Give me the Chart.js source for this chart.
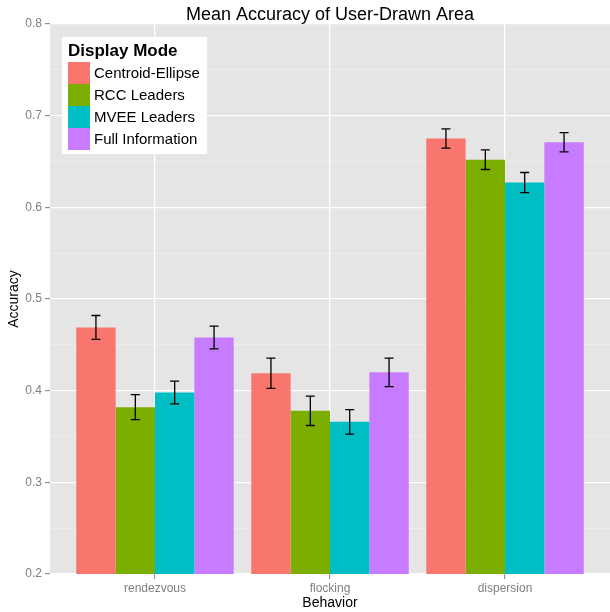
<!DOCTYPE html>
<html lang="en">
<head>
    <meta charset="UTF-8">
    <title>Mean Accuracy of User-Drawn Area</title>
    <script src="https://cdn.jsdelivr.net/npm/chart.js@4.4.1/dist/chart.umd.min.js"></script>
    <style>
        body {
            margin: 0;
            padding: 0;
            background: #ffffff;
        }
        .chart-wrapper {
            width: 610px;
            height: 612px;
            position: relative;
        }
    </style>
</head>
<body>
    <div class="chart-wrapper">
        <canvas id="accuracyChart"></canvas>
    </div>

    <script>
        // Data
        const behaviors = ['rendezvous', 'flocking', 'dispersion'];
        const modes = ['Centroid-Ellipse', 'RCC Leaders', 'MVEE Leaders', 'Full Information'];
        const modeColors = ['#F8766D', '#7CAE00', '#00BFC4', '#C77CFF'];

        const centroidEllipse = [0.469, 0.419, 0.675];
        const rccLeaders = [0.382, 0.378, 0.652];
        const mveeLeaders = [0.398, 0.366, 0.627];
        const fullInformation = [0.458, 0.420, 0.671];

        // half-width of the error bars
        const centroidErr = [0.013, 0.0165, 0.0105];
        const rccErr = [0.0136, 0.016, 0.0107];
        const mveeErr = [0.0125, 0.0134, 0.011];
        const fullErr = [0.0124, 0.0156, 0.0104];

        const yTicks = [0.2, 0.3, 0.4, 0.5, 0.6, 0.7, 0.8];

        const seriesValues = [centroidEllipse, rccLeaders, mveeLeaders, fullInformation];
        const seriesErrors = [centroidErr, rccErr, mveeErr, fullErr];

        const FONT = "'Liberation Sans', Arial, sans-serif";

        function isMajor(v) {
            return yTicks.some(t => Math.abs(t - v) < 1e-6);
        }

        // grey panel behind the grid
        const panelPlugin = {
            id: 'panel',
            beforeDraw(chart) {
                const { ctx, chartArea } = chart;
                ctx.save();
                ctx.fillStyle = '#E5E5E5';
                ctx.fillRect(chartArea.left, chartArea.top,
                    chartArea.right - chartArea.left, chartArea.bottom - chartArea.top);
                ctx.restore();
            }
        };

        // error bars drawn on top of the bars
        const errorBarPlugin = {
            id: 'errorBars',
            afterDatasetsDraw(chart) {
                const { ctx } = chart;
                const yScale = chart.scales.y;
                ctx.save();
                ctx.strokeStyle = '#000000';
                ctx.lineWidth = 1.3;
                chart.data.datasets.forEach((ds, di) => {
                    const meta = chart.getDatasetMeta(di);
                    meta.data.forEach((bar, i) => {
                        const v = seriesValues[di][i];
                        const e = seriesErrors[di][i];
                        const yHi = yScale.getPixelForValue(v + e);
                        const yLo = yScale.getPixelForValue(v - e);
                        const x = bar.x;
                        const hw = 4.5;
                        ctx.beginPath();
                        ctx.moveTo(x, yHi);
                        ctx.lineTo(x, yLo);
                        ctx.moveTo(x - hw, yHi);
                        ctx.lineTo(x + hw, yHi);
                        ctx.moveTo(x - hw, yLo);
                        ctx.lineTo(x + hw, yLo);
                        ctx.stroke();
                    });
                });
                ctx.restore();
            }
        };

        // title and the legend box inside the panel
        const decorPlugin = {
            id: 'decor',
            afterDraw(chart) {
                const { ctx, chartArea } = chart;
                ctx.save();
                ctx.fillStyle = '#000000';
                ctx.font = '18px ' + FONT;
                ctx.textAlign = 'center';
                ctx.textBaseline = 'middle';
                ctx.fillText('Mean Accuracy of User-Drawn Area', (chartArea.left + chartArea.right) / 2, 15);

                // legend
                const lx = 62, ly = 37, lw = 145, lh = 117;
                ctx.fillStyle = '#ffffff';
                ctx.fillRect(lx, ly, lw, lh);
                ctx.fillStyle = '#000000';
                ctx.textAlign = 'left';
                ctx.textBaseline = 'alphabetic';
                ctx.font = 'bold 17px ' + FONT;
                ctx.fillText('Display Mode', 68, 56);
                ctx.font = '15px ' + FONT;
                ctx.textBaseline = 'middle';
                modes.forEach((m, i) => {
                    const sy = 62 + i * 22;
                    ctx.fillStyle = modeColors[i];
                    ctx.fillRect(68, sy, 22, 22);
                    ctx.fillStyle = '#000000';
                    ctx.fillText(m, 94, sy + 11.5);
                });
                ctx.restore();
            }
        };

        const datasets = modes.map((m, i) => ({
            label: m,
            data: seriesValues[i],
            backgroundColor: modeColors[i],
            borderWidth: 0
        }));

        const config = {
            type: 'bar',
            data: { labels: behaviors, datasets: datasets },
            options: {
                responsive: true,
                maintainAspectRatio: false,
                animation: false,
                layout: { padding: { top: 24, right: 0, left: 0, bottom: 0 } },
                datasets: {
                    bar: { categoryPercentage: 0.9, barPercentage: 1.0 }
                },
                scales: {
                    x: {
                        offset: false,
                        // ggplot-style expansion of 0.6 category on each side
                        afterBuildTicks(scale) {
                            scale._startValue = -0.6;
                            scale._valueRange = behaviors.length - 1 + 1.2;
                        },
                        afterFit(scale) { scale.height = 38; },
                        grid: {
                            offset: false,
                            color: '#ffffff',
                            lineWidth: 1.3,
                            tickColor: '#7F7F7F',
                            tickLength: 5,
                            tickWidth: 1
                        },
                        border: { display: false },
                        ticks: {
                            color: '#7F7F7F',
                            font: { family: FONT, size: 12 },
                            padding: 2
                        },
                        title: {
                            display: true,
                            text: 'Behavior',
                            color: '#000000',
                            font: { family: FONT, size: 14 },
                            padding: { top: 0, bottom: 0 }
                        }
                    },
                    y: {
                        min: 0.2,
                        max: 0.8,
                        afterFit(scale) { scale.width = 50; },
                        afterBuildTicks(scale) {
                            const t = [];
                            for (let k = 0; k <= 12; k++) t.push({ value: Math.round((0.2 + k * 0.05) * 100) / 100 });
                            scale.ticks = t;
                        },
                        grid: {
                            color: ctx => isMajor(ctx.tick.value) ? '#ffffff' : '#F2F2F2',
                            lineWidth: ctx => isMajor(ctx.tick.value) ? 1.3 : 0.6,
                            tickColor: ctx => isMajor(ctx.tick.value) ? '#7F7F7F' : 'rgba(0,0,0,0)',
                            tickLength: 5,
                            tickWidth: 1
                        },
                        border: { display: false },
                        ticks: {
                            autoSkip: false,
                            color: '#7F7F7F',
                            font: { family: FONT, size: 12 },
                            padding: 3,
                            callback: v => isMajor(v) ? v.toFixed(1) : ''
                        },
                        title: {
                            display: true,
                            text: 'Accuracy',
                            color: '#000000',
                            font: { family: FONT, size: 14 },
                            padding: { top: 6, bottom: 0 }
                        }
                    }
                },
                plugins: {
                    legend: { display: false },
                    title: { display: false },
                    tooltip: { enabled: false }
                }
            },
            plugins: [panelPlugin, errorBarPlugin, decorPlugin]
        };

        const ctx = document.getElementById('accuracyChart').getContext('2d');
        window.accuracyChartInstance = new Chart(ctx, config);
    </script>
</body>
</html>
